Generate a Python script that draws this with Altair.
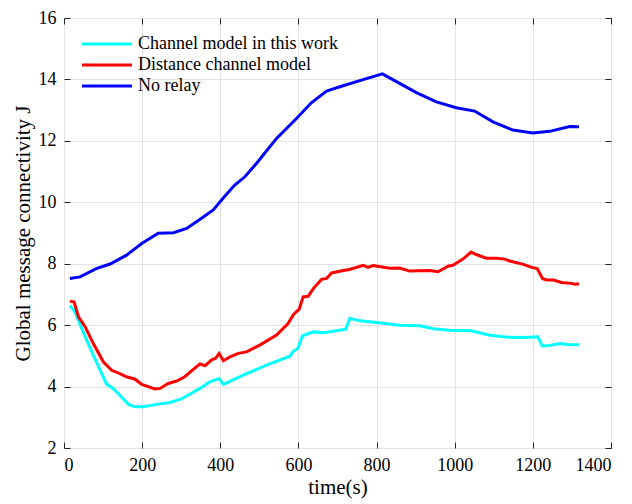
import altair as alt
import pandas as pd

series_names = ["Channel model in this work", "Distance channel model", "No relay"]
series_colors = ["#00FFFF", "#FF0000", "#0000FF"]

t_cyan = [15, 28, 49, 75, 109, 126, 143, 165, 182, 203, 237, 271, 297, 322, 348, 373, 397, 408,
          459, 518, 578, 587, 599, 610, 638, 663, 689, 721, 732, 757, 817, 859, 911, 945, 987,
          1042, 1090, 1133, 1175, 1213, 1224, 1243, 1269, 1294, 1318]
j_cyan = [6.64, 6.43, 5.78, 5.02, 4.08, 3.94, 3.72, 3.42, 3.34, 3.34, 3.42, 3.48, 3.58, 3.75, 3.94,
          4.15, 4.26, 4.07, 4.37, 4.70, 4.99, 5.15, 5.25, 5.65, 5.78, 5.75, 5.80, 5.87, 6.22, 6.14,
          6.06, 6.00, 5.98, 5.88, 5.83, 5.82, 5.67, 5.61, 5.60, 5.62, 5.32, 5.34, 5.40, 5.36, 5.36]

t_red = [15, 26, 37, 54, 75, 101, 122, 143, 160, 182, 199, 233, 246, 267, 288, 309, 331, 348, 361,
         378, 388, 397, 408, 425, 446, 467, 501, 544, 574, 587, 602, 612, 625, 638, 659, 672, 685,
         715, 731, 766, 778, 791, 834, 859, 885, 936, 957, 983, 995, 1021, 1042, 1055, 1081, 1107,
         1128, 1141, 1176, 1197, 1211, 1225, 1236, 1253, 1273, 1299, 1307, 1318]
j_red = [6.78, 6.75, 6.27, 5.95, 5.40, 4.80, 4.53, 4.42, 4.32, 4.24, 4.07, 3.92, 3.94, 4.10, 4.18,
         4.32, 4.56, 4.74, 4.68, 4.87, 4.92, 5.08, 4.84, 4.97, 5.08, 5.13, 5.35, 5.68, 6.06, 6.34,
         6.52, 6.92, 6.94, 7.19, 7.49, 7.52, 7.70, 7.78, 7.81, 7.95, 7.88, 7.94, 7.85, 7.86, 7.76,
         7.78, 7.74, 7.92, 7.95, 8.15, 8.38, 8.30, 8.18, 8.18, 8.15, 8.09, 7.98, 7.88, 7.84, 7.51,
         7.47, 7.47, 7.39, 7.36, 7.33, 7.35]

t_blue = [15, 41, 84, 118, 160, 199, 241, 280, 314, 352, 382, 407, 437, 463, 493, 544, 595, 633,
          672, 706, 757, 815, 859, 902, 953, 1004, 1051, 1098, 1149, 1200, 1243, 1294, 1318]
j_blue = [7.52, 7.57, 7.85, 7.99, 8.28, 8.66, 8.99, 9.01, 9.15, 9.48, 9.75, 10.13, 10.56, 10.83,
          11.27, 12.08, 12.73, 13.24, 13.62, 13.76, 13.96, 14.18, 13.87, 13.57, 13.27, 13.08, 12.97,
          12.62, 12.35, 12.26, 12.31, 12.47, 12.46]

x_ticks = [0, 200, 400, 600, 800, 1000, 1200, 1400]
y_ticks = [2, 4, 6, 8, 10, 12, 14, 16]

frames = []
for name, ts, js in [(series_names[0], t_cyan, j_cyan),
                     (series_names[1], t_red, j_red),
                     (series_names[2], t_blue, j_blue)]:
    frames.append(pd.DataFrame({"time": ts, "J": js, "series": name}))
df = pd.concat(frames, ignore_index=True)
df["order"] = df.index

FONT = "Liberation Serif"
AX = "#262626"

xscale = alt.Scale(domain=[0, 1400], nice=False, zero=False)
yscale = alt.Scale(domain=[2, 16], nice=False, zero=False)

lines = alt.Chart(df).mark_line(strokeWidth=3, clip=True).encode(
    x=alt.X("time:Q", scale=xscale,
            axis=alt.Axis(orient="bottom", values=x_ticks, format="d", title="time(s)", offset=-6,
                          tickSize=6, labelPadding=8, grid=True, domain=False,
                          titleX=273.5, titleY=51, titleBaseline="alphabetic")),
    y=alt.Y("J:Q", scale=yscale,
            axis=alt.Axis(orient="left", values=y_ticks, format="d",
                          title="Global message connectivity J",
                          offset=-6, tickSize=6, labelPadding=8, grid=True, domain=False,
                          titleX=-41, titleY=215, titleAngle=-90, titleAlign="center",
                          titleBaseline="alphabetic")),
    color=alt.Color("series:N",
                    scale=alt.Scale(domain=series_names, range=series_colors),
                    legend=alt.Legend(orient="none", legendX=21, legendY=4, title=None,
                                      symbolType="M-5,0H5", symbolSize=100, symbolStrokeWidth=3,
                                      labelFontSize=18, labelFont=FONT, labelColor="#000000",
                                      labelOffset=22, padding=13,
                                      rowPadding=3, labelLimit=400)),
    detail="series:N",
    order="order:Q",
)

frame_axes = alt.Chart(df).mark_point(opacity=0).encode(
    x=alt.X("time:Q", scale=xscale,
            axis=alt.Axis(orient="top", values=x_ticks, labels=False, title=None, offset=-6,
                          tickSize=6, grid=False, domain=False)),
    y=alt.Y("J:Q", scale=yscale,
            axis=alt.Axis(orient="right", values=y_ticks, labels=False, title=None, offset=-6,
                          tickSize=6, grid=False, domain=False)),
)

chart = alt.layer(frame_axes, lines).resolve_axis(x="independent", y="independent").properties(
    width=547, height=430,
    autosize=alt.AutoSizeParams(type="none"),
    padding={"left": 64, "top": 18, "right": 21, "bottom": 56},
    background="white",
).configure_axis(
    labelFont=FONT, titleFont=FONT, labelFontSize=18, titleFontSize=21,
    labelColor="#000000", titleColor="#000000", titleFontWeight="normal",
    tickColor=AX, tickWidth=1, gridColor="#E3E3E3", gridWidth=1,
).configure_view(stroke=AX, strokeWidth=1)

chart.save("out.html", embed_options={"renderer": "svg", "actions": False})
